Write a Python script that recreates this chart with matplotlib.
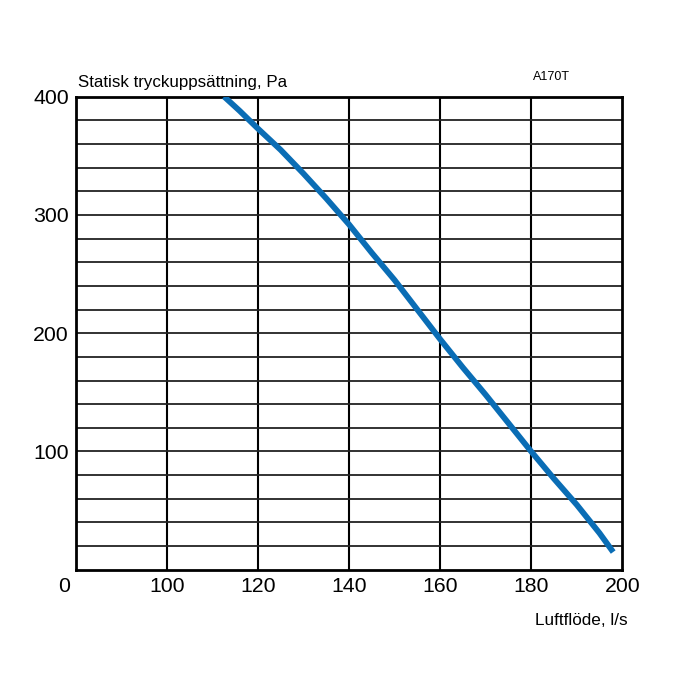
import matplotlib
matplotlib.use('Agg')
import matplotlib.pyplot as plt

plt.rcParams['font.family'] = ['Liberation Sans', 'DejaVu Sans']

# Curve (airflow l/s, static pressure Pa)
flow = [112.6, 116, 120, 125, 130, 135, 140, 145, 150, 155, 160,
        165, 170, 175, 180, 185, 190, 195, 198]
pressure = [400, 388, 373, 355, 335, 314, 292, 268, 245, 220, 195,
            171, 148, 124, 100, 77, 55, 31, 15]

x_ticks = [100, 120, 140, 160, 180, 200]
y_ticks = [100, 200, 300, 400]

fig = plt.figure(figsize=(7, 7), dpi=100)
ax = fig.add_axes([0.108, 0.186, 0.781, 0.676])

ax.set_xlim(80, 200)
ax.set_ylim(0, 400)

# grid: vertical every 20 l/s, horizontal every 20 Pa
for xv in range(100, 200, 20):
    ax.axvline(xv, color='black', linewidth=1.5, zorder=1)
for yv in range(20, 400, 20):
    ax.axhline(yv, color='#222222', linewidth=1.3, zorder=1)

ax.plot(flow, pressure, color='#0a6db5', linewidth=4.2,
        solid_capstyle='butt', solid_joinstyle='round', zorder=3)

for side in ax.spines.values():
    side.set_linewidth(2)
    side.set_color('black')

ax.set_xticks(x_ticks)
ax.set_xticklabels([str(v) for v in x_ticks])
ax.set_yticks(y_ticks)
ax.set_yticklabels([str(v) for v in y_ticks])
ax.tick_params(length=0, labelsize=15.3, pad=5)

ax.annotate('0', xy=(80, 0), xycoords='data', xytext=(-8, -5),
            textcoords='offset points', ha='center', va='top', fontsize=15.3)

fig.text(0.111, 0.872, 'Statisk tryckuppsättning, Pa', fontsize=12.2,
         ha='left', va='bottom')
fig.text(0.788, 0.882, 'A170T', fontsize=9, ha='center', va='bottom')
fig.text(0.896, 0.113, 'Luftflöde, l/s', fontsize=12.3, ha='right',
         va='center')

fig.savefig('out.png', dpi=100)
